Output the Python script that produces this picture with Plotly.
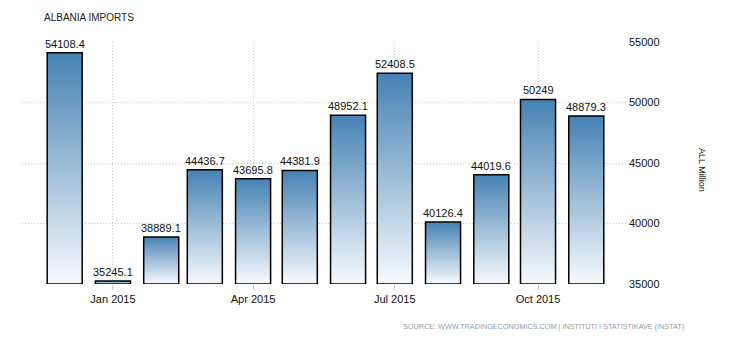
import plotly.graph_objects as go
import pandas as pd

months = ["2014-12-01", "2015-01-01", "2015-02-01", "2015-03-01", "2015-04-01", "2015-05-01",
          "2015-06-01", "2015-07-01", "2015-08-01", "2015-09-01", "2015-10-01", "2015-11-01"]
values = [54108.4, 35245.1, 38889.1, 44436.7, 43695.8, 44381.9,
          48952.1, 52408.5, 40126.4, 44019.6, 50249, 48879.3]
labels = ["54108.4", "35245.1", "38889.1", "44436.7", "43695.8", "44381.9",
          "48952.1", "52408.5", "40126.4", "44019.6", "50249", "48879.3"]
xtick_vals = ["2015-01-01", "2015-04-01", "2015-07-01", "2015-10-01"]
xtick_text = ["Jan 2015", "Apr 2015", "Jul 2015", "Oct 2015"]
ytick_vals = [35000, 40000, 45000, 50000, 55000]
ytick_text = ["35000", "40000", "45000", "50000", "55000"]
base = 35000

FONT = "Liberation Sans, Arial, sans-serif"
half = pd.Timedelta(hours=11.25 * 24)

fig = go.Figure()
for m, v in zip(months, values):
    c = pd.Timestamp(m)
    xs = [c - half, c - half, c + half, c + half, c - half]
    ys = [base, v, v, base, base]
    fig.add_trace(go.Scatter(
        x=xs, y=ys, mode="lines", fill="toself",
        line=dict(color="#000000", width=1.5),
        fillgradient=dict(type="vertical",
                          colorscale=[[0, "#f7fafd"], [1, "#4682b4"]]),
        hoverinfo="skip", showlegend=False))

for m, v, t in zip(months, values, labels):
    fig.add_annotation(x=m, y=v, text=t, showarrow=False, yanchor="bottom",
                       yshift=1, font=dict(family=FONT, size=11, color="#111111"))

L, R, T, B = 22, 102, 42, 56
W, H = 730, 340
pw, ph = W - L - R, H - T - B

fig.add_annotation(xref="paper", yref="paper", x=(709 - L) / pw, y=(H - B - 170) / ph,
                   text="ALL Million", textangle=90, showarrow=False,
                   font=dict(family=FONT, size=9, color="#111111"))
fig.add_annotation(xref="paper", yref="paper", x=(686 - L) / pw, y=(H - B - 326) / ph,
                   xanchor="right", yanchor="middle", showarrow=False,
                   text="SOURCE: <span style='color:#8a9bb0'>WWW.TRADINGECONOMICS.COM</span> | INSTITUTI I STATISTIKAVE (INSTAT)",
                   font=dict(family=FONT, size=7.25, color="#999999"))

fig.update_layout(
    width=W, height=H,
    margin=dict(l=L, r=R, t=T, b=B, pad=0),
    paper_bgcolor="white", plot_bgcolor="white",
    title=dict(text="ALBANIA IMPORTS", x=44 / W, xanchor="left", y=1 - 17 / H, yanchor="middle",
               font=dict(family=FONT, size=10, color="#222222")),
    xaxis=dict(type="date", range=["2014-11-03 14:00", "2015-11-27 19:00"],
               tickvals=xtick_vals, ticktext=xtick_text,
               showgrid=True, gridcolor="#c8c8c8", griddash="1px,2px", gridwidth=1,
               ticks="outside", ticklen=5, tickcolor="#c8c8c8",
               showline=False, zeroline=False,
               tickfont=dict(family=FONT, size=11, color="#111111")),
    yaxis=dict(side="right", range=[35000, 55000], tickvals=ytick_vals, ticktext=ytick_text,
               showgrid=True, gridcolor="#c8c8c8", griddash="1px,2px", gridwidth=1,
               showline=False, zeroline=False, ticks="",
               tickfont=dict(family=FONT, size=11, color="#111111")),
)

fig.write_html("out.html")
